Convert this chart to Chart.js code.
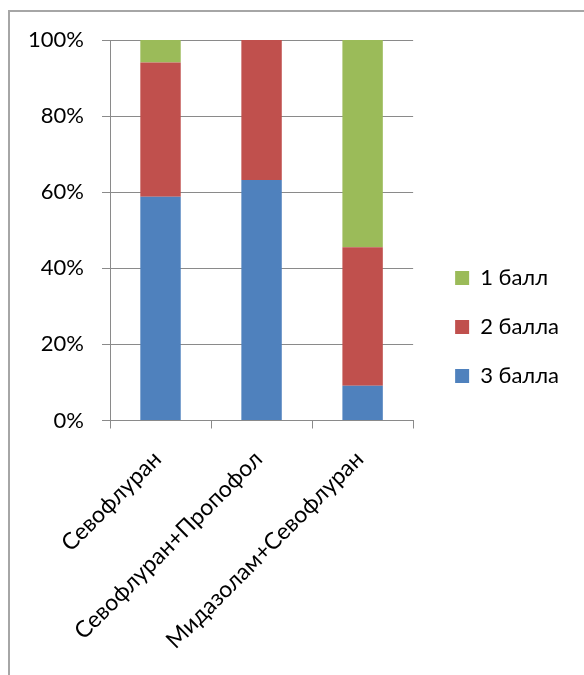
<!DOCTYPE html>
<html>
<head>
<meta charset="utf-8">
<script src="https://cdn.jsdelivr.net/npm/chart.js@4/dist/chart.umd.min.js"></script>
<style>
  html, body { margin: 0; padding: 0; background: #fff; overflow: hidden; }
  #wrap { position: relative; width: 584px; height: 675px; }
  #frame { position: absolute; left: 8px; top: 10px; width: 620px; height: 720px;
           border: 2px solid #a6a6a6; box-sizing: border-box; }
  #c { position: absolute; left: 0; top: 0; }
</style>
</head>
<body>
<div id="wrap">
  <div id="frame"></div>
  <canvas id="c" width="584" height="675"></canvas>
</div>
<script>
// Groups of patients by anaesthesia scheme
const categories = ['Севофлуран', 'Севофлуран+Пропофол', 'Мидазолам+Севофлуран'];
// Share of patients per score, percent of each group
const score3 = [58.8, 63.2, 9.1];
const score2 = [35.3, 36.8, 36.4];
const score1 = [5.9, 0, 54.5];
const seriesNames = ['3 балла', '2 балла', '1 балл'];
const yTicks = [0, 20, 40, 60, 80, 100];

const FONT = 'Lato, "Open Sans", "Noto Sans", sans-serif';
const GRID = '#8a8a8a';

new Chart(document.getElementById('c'), {
  type: 'bar',
  data: {
    labels: categories,
    datasets: [
      { label: seriesNames[0], data: score3, backgroundColor: '#4F81BD' },
      { label: seriesNames[1], data: score2, backgroundColor: '#C0504D' },
      { label: seriesNames[2], data: score1, backgroundColor: '#9BBB59' }
    ]
  },
  options: {
    responsive: false,
    animation: false,
    events: [],
    layout: { padding: { left: 0, top: 0, right: 15, bottom: 21 } },
    datasets: { bar: { categoryPercentage: 1.0, barPercentage: 0.4 } },
    plugins: {
      tooltip: { enabled: false },
      // empty title used as top margin above the plot
      title: { display: true, text: '', padding: 0, font: { size: 40, lineHeight: 1 } },
      legend: {
        position: 'right',
        reverse: true,
        maxWidth: 220,
        labels: {
          boxWidth: 14, boxHeight: 14, padding: 27,
          color: '#000', font: { family: FONT, size: 22 }
        }
      }
    },
    scales: {
      x: {
        stacked: true,
        offset: true,
        grid: { offset: true, drawOnChartArea: false, drawTicks: true, tickLength: 8, color: GRID },
        border: { display: true, color: GRID, width: 1 },
        ticks: {
          autoSkip: false, minRotation: 45, maxRotation: 45, padding: 17, labelOffset: -3,
          color: '#000', font: { family: FONT, size: 23 }
        },
        afterFit: s => { s.height = 233.5; }
      },
      y: {
        stacked: true,
        min: 0, max: 100,
        afterBuildTicks: s => { s.ticks = yTicks.map(v => ({ value: v })); },
        grid: { color: GRID, tickLength: 8, lineWidth: 1 },
        border: { display: true, color: GRID, width: 1 },
        ticks: {
          padding: 18, color: '#000', font: { family: FONT, size: 22 },
          callback: v => v + '%'
        },
        afterFit: s => { s.width = 110; }
      },
      // keeps a gap between the plot and the legend column
      gap: {
        type: 'linear', position: 'right', display: true,
        grid: { display: false }, border: { display: false }, ticks: { display: false },
        afterFit: s => { s.width = 15; }
      }
    }
  }
});
</script>
</body>
</html>
